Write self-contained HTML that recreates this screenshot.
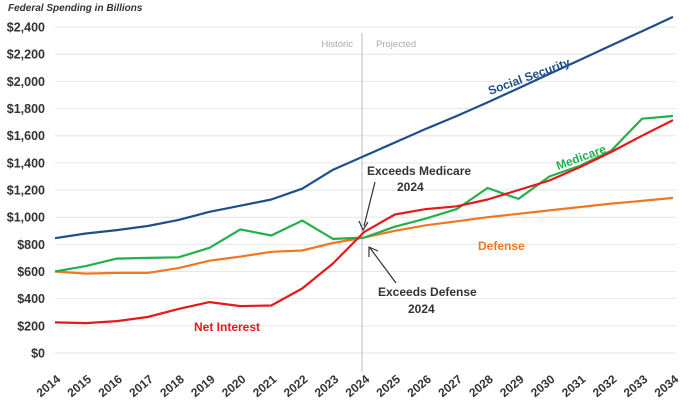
<!DOCTYPE html><html><head><meta charset="utf-8"><style>body{margin:0;background:#fff}svg{display:block;font-family:"Liberation Sans",sans-serif}</style></head><body>
<svg id="s" width="700" height="400" xmlns="http://www.w3.org/2000/svg">
<text x="8" y="11" font-size="10" font-style="italic" font-weight="bold" fill="#333">Federal Spending in Billions</text>
<g id="grid"></g>
<line x1="362" y1="33" x2="362" y2="372" stroke="#bbb" stroke-width="1"/>
<text x="353" y="47" font-size="9.5" fill="#aaa" text-anchor="end">Historic</text>
<text x="376" y="47" font-size="9.5" fill="#aaa">Projected</text>
<g id="lines"></g>
<text transform="translate(490,95) rotate(-20)" font-size="12" font-weight="bold" fill="#1f4e8c">Social Security</text>
<text transform="translate(558,170) rotate(-20)" font-size="12" font-weight="bold" fill="#22b04b">Medicare</text>
<text x="478" y="250" font-size="12" font-weight="bold" fill="#ee7722">Defense</text>
<text x="194" y="331" font-size="12" font-weight="bold" fill="#e31a1c">Net Interest</text>
<text x="367" y="175" font-size="12" font-weight="bold" fill="#333">Exceeds Medicare</text>
<text x="397" y="191" font-size="12" font-weight="bold" fill="#333">2024</text>
<line x1="375" y1="182" x2="364" y2="226" stroke="#333" stroke-width="1.2"/>
<path d="M359,221 L363,230 L368,222" fill="none" stroke="#333" stroke-width="1.2"/>
<text x="378" y="296" font-size="12" font-weight="bold" fill="#333">Exceeds Defense</text>
<text x="408" y="313" font-size="12" font-weight="bold" fill="#333">2024</text>
<line x1="396" y1="283" x2="370" y2="248" stroke="#333" stroke-width="1.2"/>
<path d="M369,257 L369,247 L378,251" fill="none" stroke="#333" stroke-width="1.2"/>
<g id="xl"></g>
</svg>
<script>
function Y(v){return 353-v*0.1358}
function X(i){return 55+i*30.9}
var g=document.getElementById('grid'),h='';
for(var v=0;v<=2400;v+=200){var y=Y(v);h+='<line x1="55" x2="676" y1="'+y+'" y2="'+y+'" stroke="#e6e6e6" stroke-width="1"/>';
h+='<text x="45" y="'+(y+4.5)+'" font-size="12.5" font-weight="bold" fill="#333" text-anchor="end">$'+v.toLocaleString('en-US')+'</text>';}
g.innerHTML=h;
var D={"#1f4e8c":[845,880,905,935,980,1040,1085,1130,1210,1350,1450,1550,1650,1745,1845,1950,2055,2160,2265,2370,2475],
"#ee7722":[600,585,590,590,625,680,710,745,755,810,850,900,940,970,1000,1025,1050,1075,1100,1120,1142],
"#22b04b":[600,640,695,700,705,775,910,865,975,840,850,930,990,1060,1215,1135,1300,1380,1490,1725,1745],
"#e31a1c":[225,220,235,265,325,375,345,350,475,660,890,1020,1060,1080,1130,1200,1270,1370,1480,1600,1715]};
h='';for(var c in D){var p=D[c].map(function(v,i){return X(i).toFixed(1)+','+Y(v).toFixed(1)}).join(' ');
h+='<polyline points="'+p+'" fill="none" stroke="'+c+'" stroke-width="2.2" stroke-linejoin="round"/>';}
document.getElementById('lines').innerHTML=h;
h='';for(var i=0;i<=20;i++){var x=X(i)-4,y=389;h+='<text transform="translate('+x+','+y+') rotate(-40)" font-size="12" font-weight="bold" fill="#333" text-anchor="middle">'+(2014+i)+'</text>';}
document.getElementById('xl').innerHTML=h;
</script>
</body></html>
